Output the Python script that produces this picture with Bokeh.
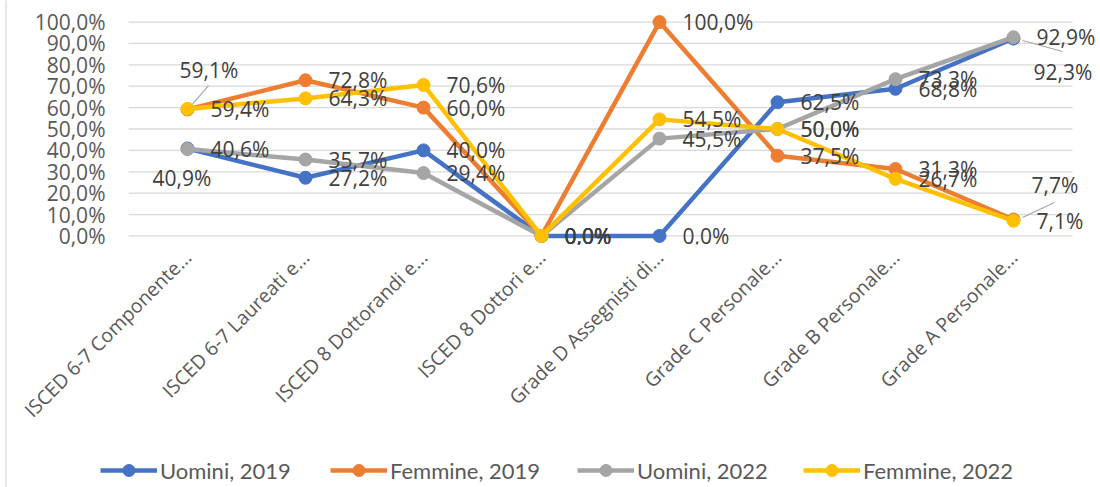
from math import pi
from bokeh.plotting import figure
from bokeh.layouts import column, row
from bokeh.models import (ColumnDataSource, Range1d, FixedTicker, CustomJSTickFormatter,
                          LabelSet, Legend, LegendItem, Span)
from bokeh.core.properties import value
from bokeh.embed import file_html
from bokeh.resources import INLINE

categories = ["ISCED 6-7 Componente...", "ISCED 6-7 Laureati e...", "ISCED 8 Dottorandi e...",
              "ISCED 8 Dottori e...", "Grade D Assegnisti di...", "Grade C Personale...",
              "Grade B Personale...", "Grade A Personale..."]
uomini_2019 = [40.9, 27.2, 40.0, 0.0, 0.0, 62.5, 68.8, 92.3]
femmine_2019 = [59.1, 72.8, 60.0, 0.0, 100.0, 37.5, 31.3, 7.7]
uomini_2022 = [40.6, 35.7, 29.4, 0.0, 45.5, 50.0, 73.3, 92.9]
femmine_2022 = [59.4, 64.3, 70.6, 0.0, 54.5, 50.0, 26.7, 7.1]
series_names = ["Uomini, 2019", "Femmine, 2019", "Uomini, 2022", "Femmine, 2022"]
series_values = [uomini_2019, femmine_2019, uomini_2022, femmine_2022]
y_ticks = [0, 10, 20, 30, 40, 50, 60, 70, 80, 90, 100]

# styling
colors = ["#4472C4", "#ED7D31", "#A5A5A5", "#FFC000"]
DEF = (23, 0)  # label offset in px: right of the point
label_offsets = [
    [(-35, -30), DEF, DEF, DEF, DEF, DEF, DEF, (20, -33)],
    [(-8, 40), DEF, DEF, DEF, DEF, DEF, DEF, (18, 34)],
    [DEF] * 8,
    [DEF] * 8,
]
# leader lines: (series, index, dx0, dy0, dx1, dy1) in pixels
leaders = [(1, 0, 2, 2, 21, 24), (0, 7, 9, -2, 49, -13), (1, 7, 9, 2, 41, 17)]
legend_x = [93, 323, 570, 796]  # px positions of the legend entries

WB = 7                      # left strip with the chart border line
W, H, HL = 1100 - WB, 447, 40
ML, MR, MT = 128 - WB, 0, 13
FH = 231
MB = H - MT - FH
CAT_PX = 118.0
X0 = -0.5
FW = W - ML - MR
X1 = X0 + FW / CAT_PX
Y0, Y1 = -4, 104
XPX = CAT_PX
YPX = FH / (Y1 - Y0)

p = figure(width=W, height=H, output_backend="svg", toolbar_location=None,
           x_range=Range1d(X0, X1), y_range=Range1d(Y0, Y1),
           min_border_left=ML, min_border_right=MR, min_border_top=MT, min_border_bottom=MB)
p.frame_align = False
p.outline_line_color = None
p.background_fill_color = "white"
p.border_fill_color = "white"

xs = list(range(len(categories)))

p.xaxis.ticker = FixedTicker(ticks=xs)
p.xaxis.major_label_overrides = {i: c for i, c in enumerate(categories)}
p.xaxis.major_label_orientation = pi / 4
p.xaxis.major_label_text_font = "Open Sans"
p.xaxis.major_label_text_font_size = "19.5px"
p.xaxis.major_label_text_color = "#595959"
p.xaxis.major_label_standoff = 9
p.xaxis.axis_line_color = None
p.xaxis.major_tick_line_color = None
p.xaxis.minor_tick_line_color = None
p.xaxis.major_tick_out = 0

p.yaxis.ticker = FixedTicker(ticks=y_ticks)
p.yaxis.formatter = CustomJSTickFormatter(code="return tick.toFixed(1).replace('.', ',') + '%';")
p.yaxis.major_label_text_font = "Open Sans"
p.yaxis.major_label_text_font_size = "21px"
p.yaxis.major_label_text_color = "#595959"
p.yaxis.major_label_standoff = 23
p.yaxis.axis_line_color = None
p.yaxis.major_tick_line_color = None
p.yaxis.minor_tick_line_color = None
p.yaxis.major_tick_out = 0

p.xgrid.visible = False
p.ygrid.visible = False
# horizontal gridlines spanning the category bands only
p.segment(x0=[xs[0] - 0.5] * len(y_ticks), x1=[xs[-1] + 0.5] * len(y_ticks),
          y0=y_ticks, y1=y_ticks, line_color="#D9D9D9", line_width=1.3)

# leader lines
lx0, ly0, lx1, ly1 = [], [], [], []
for s, i, dx0, dy0, dx1, dy1 in leaders:
    v = series_values[s][i]
    lx0.append(xs[i] + dx0 / XPX)
    ly0.append(v + dy0 / YPX)
    lx1.append(xs[i] + dx1 / XPX)
    ly1.append(v + dy1 / YPX)
p.segment(x0=lx0, y0=ly0, x1=lx1, y1=ly1, line_color="#A6A6A6", line_width=1.2)

sources = []
for name, vals, col, offs in zip(series_names, series_values, colors, label_offsets):
    src = ColumnDataSource(dict(
        x=xs, y=vals,
        text=[f"{v:.1f}".replace(".", ",") + "%" for v in vals],
        dx=[o[0] for o in offs], dy=[o[1] for o in offs]))
    sources.append(src)
    p.line("x", "y", source=src, line_color=col, line_width=4.5)
    p.scatter("x", "y", source=src, size=13, fill_color=col, line_color=col)
    labels = LabelSet(x="x", y="y", text="text", x_offset="dx", y_offset="dy", source=src,
                      text_font=value("Open Sans"), text_font_size="21px",
                      text_color="#404040", text_align="left", text_baseline="middle")
    p.add_layout(labels)

# legend strip below the chart (series drawn out of view, only their legend shows)
pl = figure(width=W, height=HL, output_backend="svg", toolbar_location=None,
            x_range=Range1d(100, 101), y_range=Range1d(1000, 1001),
            x_axis_location=None, y_axis_location=None,
            min_border=0, min_border_left=0, min_border_right=0,
            min_border_top=0, min_border_bottom=0)
pl.frame_align = False
pl.outline_line_color = None
pl.xgrid.visible = False
pl.ygrid.visible = False
pl.border_fill_color = "white"
for name, col, src, lx in zip(series_names, colors, sources, legend_x):
    lr = pl.line("x", "y", source=src, line_color=col, line_width=4.5)
    sr = pl.scatter("x", "y", source=src, size=13, fill_color=col, line_color=col)
    lg = Legend(items=[LegendItem(label=name, renderers=[lr, sr])], location=(lx, 2),
                glyph_width=57, glyph_height=30, label_height=30, label_standoff=3,
                padding=0, margin=0, border_line_color=None,
                background_fill_alpha=0, label_text_font="Lato",
                label_text_font_size="22px", label_text_color="#595959")
    pl.add_layout(lg)

# thin strip on the left whose 1px frame forms the chart's border line
pb = figure(width=WB, height=H + HL, output_backend="svg", toolbar_location=None,
            x_range=Range1d(0, 1), y_range=Range1d(0, 1),
            x_axis_location=None, y_axis_location=None,
            min_border=0, min_border_left=5, min_border_right=1,
            min_border_top=0, min_border_bottom=0)
pb.frame_align = False
pb.outline_line_color = None
pb.xgrid.visible = False
pb.ygrid.visible = False
pb.border_fill_color = "white"
pb.background_fill_color = "#D0D0D0"

layout = row(pb, column(p, pl, spacing=0), spacing=0)
open("out.html", "w").write(file_html(layout, INLINE))
